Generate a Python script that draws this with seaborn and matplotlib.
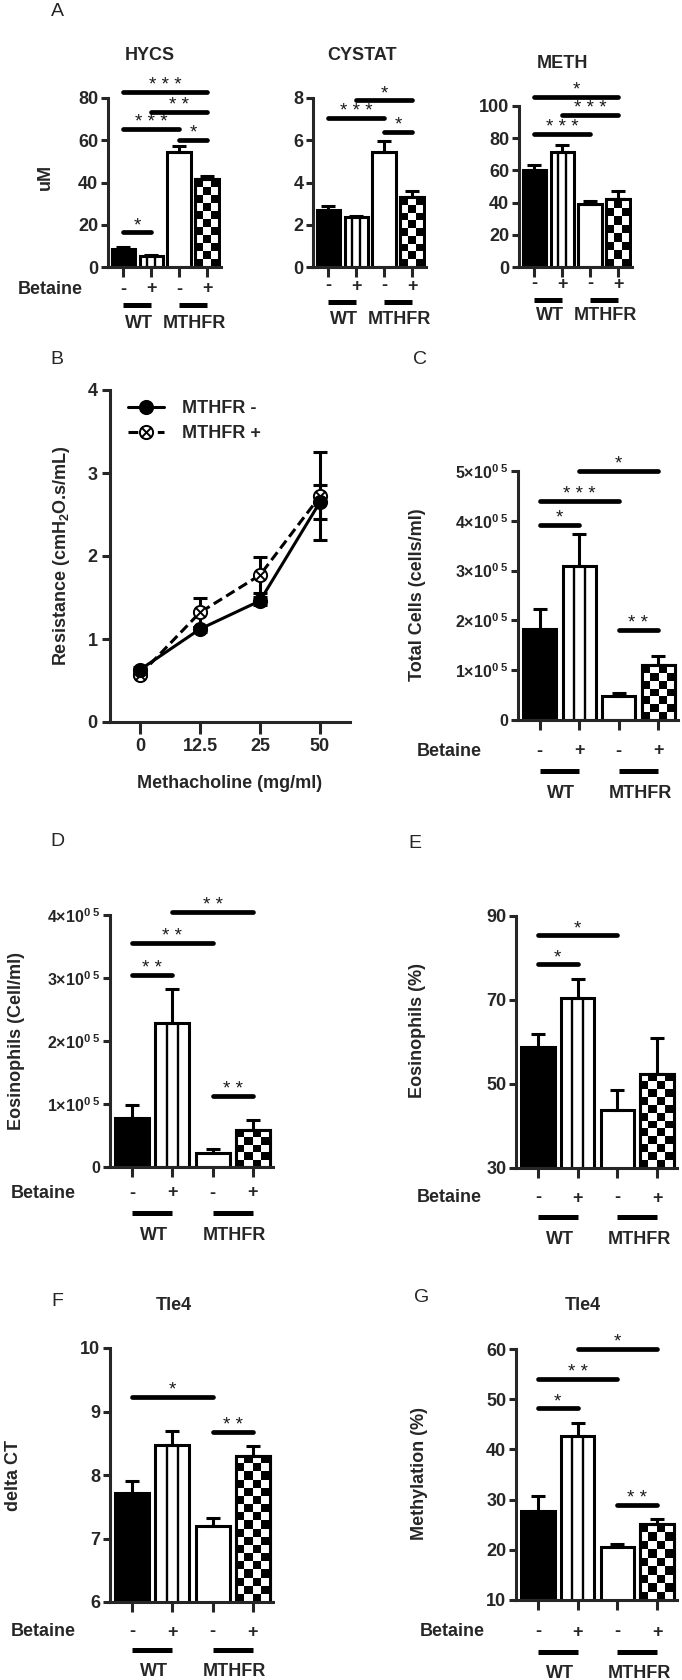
import numpy as np
import pandas as pd
import matplotlib
matplotlib.use("Agg")
import matplotlib.pyplot as plt
import matplotlib.transforms as mtransforms
from matplotlib.patches import Rectangle
from matplotlib.path import Path
import seaborn as sns

W, H = 682, 1680

# ---------------- data ----------------
groups = ["WT -", "WT +", "MTHFR -", "MTHFR +"]
betaine = ["-", "+", "-", "+"]
genotypes = ["WT", "MTHFR"]

hycs_mean = [8.5, 5.0, 54.5, 41.5]
hycs_sem = [1.0, 0.7, 3.0, 1.5]
hycs_sig = [(0, 1, 16.5, "*"), (0, 2, 65.4, "***"), (2, 3, 60.2, "*"),
            (1, 3, 73.4, "**"), (0, 3, 82.8, "***")]

cystat_mean = [2.7, 2.35, 5.45, 3.3]
cystat_sem = [0.2, 0.08, 0.5, 0.28]
cystat_sig = [(0, 2, 7.06, "***"), (1, 3, 7.9, "*"), (2, 3, 6.4, "*")]

meth_mean = [60.0, 71.5, 39.0, 42.0]
meth_sem = [3.5, 4.5, 2.0, 5.0]
meth_sig = [(0, 2, 82.6, "***"), (1, 3, 94.4, "***"), (0, 3, 105.6, "*")]

doses = ["0", "12.5", "25", "50"]
res_minus = [0.63, 1.12, 1.46, 2.65]
res_minus_sem = [0.03, 0.03, 0.05, 0.20]
res_plus = [0.57, 1.32, 1.77, 2.72]
res_plus_sem = [0.02, 0.18, 0.22, 0.53]

total_mean = [1.83e5, 3.10e5, 0.48e5, 1.10e5]
total_sem = [0.40e5, 0.63e5, 0.06e5, 0.18e5]
total_sig = [(0, 1, 3.92e5, "*"), (0, 2, 4.40e5, "***"), (1, 3, 5.0e5, "*"),
             (2, 3, 1.81e5, "**")]

eos_mean = [0.78e5, 2.28e5, 0.23e5, 0.58e5]
eos_sem = [0.21e5, 0.54e5, 0.05e5, 0.16e5]
eos_sig = [(0, 1, 3.05e5, "**"), (0, 2, 3.56e5, "**"), (1, 3, 4.05e5, "**"),
           (2, 3, 1.12e5, "**")]

eospct_mean = [58.8, 70.5, 43.8, 52.5]
eospct_sem = [3.0, 4.4, 4.8, 8.4]
eospct_sig = [(0, 1, 78.5, "*"), (0, 2, 85.4, "*")]

dct_mean = [7.72, 8.47, 7.20, 8.30]
dct_sem = [0.18, 0.23, 0.12, 0.16]
dct_sig = [(0, 2, 9.23, "*"), (2, 3, 8.67, "**")]

methyl_mean = [27.8, 42.7, 20.5, 25.1]
methyl_sem = [2.9, 2.5, 0.6, 1.0]
methyl_sig = [(0, 1, 48.2, "*"), (0, 2, 54.1, "**"), (1, 3, 60.0, "*"),
              (2, 3, 29.0, "**")]

sci_ticks = [0, 1e5, 2e5, 3e5, 4e5, 5e5]
sci_labels = ["0"] + [f"{k}×10$^{{0\\ 5}}$" for k in range(1, 6)]

# ---------------- style ----------------
sns.set_style("ticks")
FONT = "Liberation Sans"
plt.rcParams["font.family"] = [FONT, "DejaVu Sans"]
plt.rcParams["font.weight"] = "bold"
plt.rcParams["mathtext.fontset"] = "custom"
plt.rcParams["mathtext.rm"] = FONT + ":bold"
plt.rcParams["mathtext.it"] = FONT + ":bold"
plt.rcParams["mathtext.bf"] = FONT + ":bold"
plt.rcParams["axes.linewidth"] = 2.2

FS = 13
TFS = 13
LW = 2.2
bar_colors = {"WT -": "black", "WT +": "white", "MTHFR -": "white", "MTHFR +": "white"}

fig = plt.figure(figsize=(W / 100, H / 100), dpi=100)


def fy(y):
    return 1 - y / H


def ftext(x, y, s, **kw):
    kw.setdefault("ha", "center")
    kw.setdefault("va", "center")
    kw.setdefault("fontsize", FS)
    kw.setdefault("fontweight", "bold")
    return fig.text(x / W, fy(y), s, **kw)


def add_ax(left, right, top, bottom):
    return fig.add_axes([left / W, fy(bottom), (right - left) / W, (bottom - top) / H])


def visible_extent(ax, bar):
    ylo, yhi = ax.get_ylim()
    x0, x1 = bar.get_x(), bar.get_x() + bar.get_width()
    y0 = max(bar.get_y(), ylo)
    y1 = min(bar.get_y() + bar.get_height(), yhi)
    return x0, x1, y0, y1


def stripes(ax, bar, n=3):
    x0, x1, y0, y1 = visible_extent(ax, bar)
    xs = x0 + (x1 - x0) * np.arange(1, n) / n
    ax.vlines(xs, y0, y1, colors="black", linewidth=1.7, zorder=bar.get_zorder() + 0.01)


def checker(ax, bar, cell=8.0):
    x0, x1, y0, y1 = visible_extent(ax, bar)
    p0 = ax.transData.transform((x0, y0))
    p1 = ax.transData.transform((x1, y1))
    nx = max(1, int(round(abs(p1[0] - p0[0]) / cell)))
    ny = max(1, int(round(abs(p1[1] - p0[1]) / cell)))
    arr = np.add.outer(np.arange(ny), np.arange(nx)) % 2
    im = ax.imshow(arr, cmap="gray", vmin=0, vmax=1, extent=(x0, x1, y0, y1),
                   origin="lower", aspect="auto", interpolation="nearest",
                   zorder=bar.get_zorder() + 0.01)
    im.set_clip_path(bar)
    ax.add_patch(Rectangle((x0, bar.get_y()), bar.get_width(), bar.get_height(), fill=False,
                           edgecolor="black", linewidth=LW, zorder=bar.get_zorder() + 0.02))


def sig(ax, items, fs=13.5):
    for i, j, y, s in items:
        ax.plot([i, j], [y, y], color="black", lw=3.4, solid_capstyle="round", clip_on=False, zorder=5)
        ax.annotate(" ".join(s), xy=((i + j) / 2, y), xytext=(0, 1.5), textcoords="offset points",
                    ha="center", va="baseline", fontsize=fs, fontweight="normal", color="#1a1a1a",
                    annotation_clip=False)


def group_rows(ax, row_y, bar_y, lab_y, betaine_x=None, fs=FS):
    tr = mtransforms.blended_transform_factory(ax.transData, fig.transFigure)
    for k, lab in enumerate(betaine):
        ax.text(k, fy(row_y), lab, transform=tr, ha="center", va="center", fontsize=fs, fontweight="bold")
    for g, name in enumerate(genotypes):
        ax.plot([2 * g, 2 * g + 1], [fy(bar_y)] * 2, transform=tr, color="black", lw=3.6,
                solid_capstyle="butt", clip_on=False)
        ax.text(2 * g + 0.55, fy(lab_y), name, transform=tr, ha="center", va="center",
                fontsize=fs, fontweight="bold")
    if betaine_x is not None:
        ftext(betaine_x, row_y, "Betaine", ha="left", fontsize=fs)


def bar_panel(rect, means, sems, yticks, ylabels=None, sigs=(), tickfs=TFS, xlim=(-0.55, 3.5)):
    ax = add_ax(*rect)
    df = pd.DataFrame({"group": groups, "value": means})
    sns.barplot(data=df, x="group", y="value", hue="group", palette=bar_colors, legend=False,
                width=0.84, edgecolor="black", linewidth=LW, errorbar=None, saturation=1, ax=ax)
    ax.set_xlim(*xlim)
    ax.set_ylim(yticks[0], yticks[-1])
    ax.set_yticks(yticks)
    if ylabels is not None:
        ax.set_yticklabels(ylabels)
    ax.set_xticks(range(len(groups)))
    ax.set_xticklabels([])
    ax.set_xlabel("")
    ax.set_ylabel("")
    sns.despine(ax=ax)
    ax.tick_params(axis="y", direction="out", length=5, width=LW, pad=2, labelsize=tickfs)
    ax.tick_params(axis="x", direction="out", length=7.5, width=LW)
    for lab in ax.get_yticklabels():
        lab.set_fontweight("bold")
    bars = [c[0] for c in ax.containers]
    stripes(ax, bars[1])
    checker(ax, bars[3])
    ax.errorbar(np.arange(len(means)), means, yerr=[np.zeros(len(means)), sems], fmt="none",
                ecolor="black", elinewidth=LW, capsize=4.7, capthick=LW, zorder=3)
    sig(ax, sigs)
    return ax


# ---------------- Panel A ----------------
axH = bar_panel((108, 221, 98, 267), hycs_mean, hycs_sem, [0, 20, 40, 60, 80], sigs=hycs_sig)
group_rows(axH, 289, 305, 323, 18)
axC = bar_panel((313, 426, 98, 267), cystat_mean, cystat_sem, [0, 2, 4, 6, 8], sigs=cystat_sig)
group_rows(axC, 286, 302, 319)
axM = bar_panel((519, 632, 106, 267), meth_mean, meth_sem, [0, 20, 40, 60, 80, 100], sigs=meth_sig)
group_rows(axM, 284, 300, 316)

ftext(57, 12, "A", fontsize=14, fontweight="normal")
ftext(150, 55, "HYCS")
ftext(362, 55, "CYSTAT")
ftext(562, 63, "METH")
ftext(45, 177, "uM", rotation=90)

# ---------------- Panel B ----------------
axB = add_ax(110, 350, 390, 722)
d = 0.7071
otimes = Path.make_compound_path(
    Path.unit_circle(),
    Path([[-d, -d], [d, d], [-d, d], [d, -d]], [Path.MOVETO, Path.LINETO, Path.MOVETO, Path.LINETO]))
sns.pointplot(x=doses, y=res_plus, color="black", markers=otimes, linestyles=(0, (3.2, 1.6)),
              errorbar=None, ax=axB, markersize=9.5, linewidth=LW, markerfacecolor="white",
              markeredgewidth=1.4)
line_plus = axB.lines[-1]
sns.pointplot(x=doses, y=res_minus, color="black", markers="o", linestyles="-",
              errorbar=None, ax=axB, markersize=9.5, linewidth=LW, markeredgewidth=1.4)
line_minus = axB.lines[-1]
axB.errorbar(np.arange(len(doses)), res_plus, yerr=res_plus_sem, fmt="none", ecolor="black",
             elinewidth=LW, capsize=4.7, capthick=LW, zorder=1)
axB.errorbar(np.arange(len(doses)), res_minus, yerr=res_minus_sem, fmt="none", ecolor="black",
             elinewidth=LW, capsize=4.7, capthick=LW, zorder=1)
axB.set_xlim(-0.5, 3.5)
axB.set_ylim(0, 4)
axB.set_yticks([0, 1, 2, 3, 4])
axB.set_xlabel("")
axB.set_ylabel("")
sns.despine(ax=axB)
axB.tick_params(axis="y", direction="out", length=6, width=LW, pad=3, labelsize=TFS)
axB.tick_params(axis="x", direction="out", length=8.5, width=LW, pad=3, labelsize=TFS)
for lab in axB.get_xticklabels() + axB.get_yticklabels():
    lab.set_fontweight("bold")
axB.legend([line_minus, line_plus], ["MTHFR -", "MTHFR +"], loc="upper left",
           bbox_to_anchor=(128 / W, fy(400)), bbox_transform=fig.transFigure, frameon=False,
           borderpad=0, borderaxespad=0, handlelength=2.0, handletextpad=1.0, labelspacing=0.45,
           numpoints=1, prop=dict(size=FS, weight="bold"))
ftext(230, 783, "Methacholine (mg/ml)")
ftext(62, 556, "Resistance (cmH$_2$O.s/mL)", rotation=90)
ftext(57, 360, "B", fontsize=14, fontweight="normal")

# ---------------- Panel C ----------------
axTC = bar_panel((518, 678, 471, 720), total_mean, total_sem, sci_ticks, sci_labels,
                 sigs=total_sig, tickfs=11.5)
ftext(417, 595, "Total Cells (cells/ml)", rotation=90)
group_rows(axTC, 751, 771, 793, 417)
ftext(420, 360, "C", fontsize=14, fontweight="normal")

# ---------------- Panel D ----------------
axD = bar_panel((110, 273, 915, 1167), eos_mean, eos_sem, sci_ticks[:5], sci_labels[:5],
                sigs=eos_sig, tickfs=11.5)
ftext(17, 1041, "Eosinophils (Cell/ml)", rotation=90)
group_rows(axD, 1193, 1213, 1235, 11)
ftext(57, 842, "D", fontsize=14, fontweight="normal")

# ---------------- Panel E ----------------
axE = bar_panel((516, 677, 916, 1168), eospct_mean, eospct_sem, [30, 50, 70, 90],
                sigs=eospct_sig)
ftext(418, 1030, "Eosinophils (%)", rotation=90)
group_rows(axE, 1198, 1217, 1240, 417)
ftext(415, 843, "E", fontsize=14, fontweight="normal")

# ---------------- Panel F ----------------
axF = bar_panel((110, 273, 1348, 1602), dct_mean, dct_sem, [6, 7, 8, 9, 10], sigs=dct_sig)
ftext(14, 1475, "delta CT", rotation=90)
group_rows(axF, 1632, 1650, 1672, 11)
ftext(57, 1302, "F", fontsize=14, fontweight="normal")
ftext(174, 1305, "Tle4")

# ---------------- Panel G ----------------
axG = bar_panel((516, 677, 1349, 1600), methyl_mean, methyl_sem, [10, 20, 30, 40, 50, 60],
                sigs=methyl_sig)
ftext(420, 1473, "Methylation (%)", rotation=90)
group_rows(axG, 1632, 1652, 1674, 420)
ftext(422, 1298, "G", fontsize=14, fontweight="normal")
ftext(583, 1305, "Tle4")

fig.savefig("out.png", dpi=100, facecolor="white")
